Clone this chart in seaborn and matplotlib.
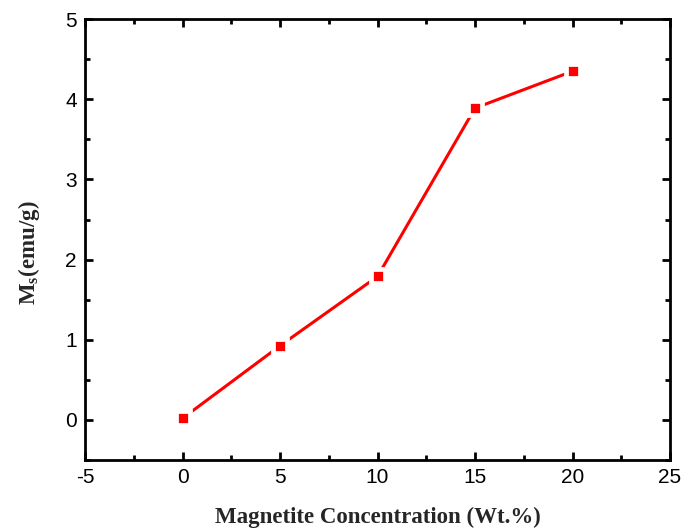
import matplotlib
matplotlib.use("Agg")
import matplotlib.pyplot as plt
from matplotlib.ticker import MultipleLocator
import pandas as pd
import seaborn as sns

# Saturation magnetisation vs magnetite loading
concentration = [0, 5, 10, 15, 20]
ms_values = [0.02, 0.925, 1.79, 3.89, 4.35]

df = pd.DataFrame({"conc": concentration, "ms": ms_values})

sns.set_theme(style="ticks")
plt.rcParams["font.family"] = ["Liberation Sans", "DejaVu Sans"]
plt.rcParams["axes.unicode_minus"] = False
plt.rcParams["mathtext.fontset"] = "custom"
plt.rcParams["mathtext.rm"] = "Liberation Serif:bold"
plt.rcParams["mathtext.bf"] = "Liberation Serif:bold"

fig = plt.figure(figsize=(6.83, 5.31), dpi=100)
ax = fig.add_axes([0.1245, 0.1337, 0.981 - 0.1245, 0.964 - 0.1337])

# white marker edge leaves a small gap between the line and each point
sns.lineplot(data=df, x="conc", y="ms", ax=ax, color="#ff0000", linewidth=2.2,
             marker="s", markersize=10, markeredgecolor="white",
             markeredgewidth=3.4, markerfacecolor="#ff0000")

ax.set_xlim(-5, 25)
ax.set_ylim(-0.5, 5)
ax.xaxis.set_major_locator(MultipleLocator(5))
ax.xaxis.set_minor_locator(MultipleLocator(2.5))
ax.yaxis.set_major_locator(MultipleLocator(1))
ax.yaxis.set_minor_locator(MultipleLocator(0.5))

for s in ax.spines.values():
    s.set_linewidth(2.0)
    s.set_color("black")

ax.tick_params(which="both", direction="in", top=True, right=True,
               width=2.0, colors="black")
ax.tick_params(which="major", length=6, labelsize=15, pad=6)
ax.tick_params(which="minor", length=3.5)

ax.set_xlabel("Magnetite Concentration (Wt.%)", fontfamily="Liberation Serif",
              fontweight="bold", fontsize=16.5, labelpad=14)
ax.set_ylabel(r"M$_\mathrm{s}$(emu/g)", fontfamily="Liberation Serif",
              fontweight="bold", fontsize=16.5)
ax.yaxis.set_label_coords(-0.074, 0.47)

fig.savefig("out.png", dpi=100)
